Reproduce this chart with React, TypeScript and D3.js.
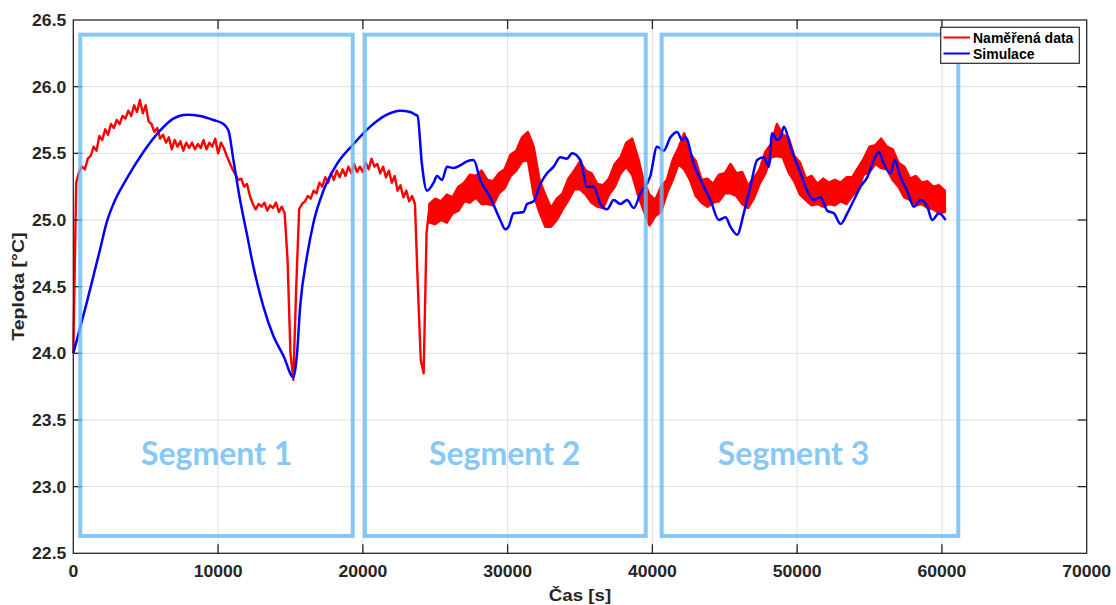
import React from 'react';
import * as d3 from 'd3';

const W = 1116;
const H = 605;

const xTicks = [0, 10000, 20000, 30000, 40000, 50000, 60000, 70000];
const yTicks = [22.5, 23.0, 23.5, 24.0, 24.5, 25.0, 25.5, 26.0, 26.5];

// Measured data (Naměřená data), first part: one sample every 200 s from t = 0
const measuredStep = 200;
const measured = [
  24.00, 25.28, 25.36, 25.40, 25.38, 25.46, 25.48, 25.55, 25.52, 25.63,
  25.60, 25.68, 25.64, 25.72, 25.69, 25.75, 25.72, 25.78, 25.76, 25.82,
  25.78, 25.86, 25.81, 25.90, 25.80, 25.86, 25.74, 25.72, 25.66, 25.69,
  25.61, 25.64, 25.58, 25.62, 25.53, 25.60, 25.55, 25.59, 25.52, 25.58,
  25.54, 25.58, 25.53, 25.57, 25.54, 25.60, 25.53, 25.58, 25.55, 25.61,
  25.50, 25.58, 25.54, 25.48, 25.43, 25.38, 25.34, 25.30, 25.31, 25.25,
  25.27, 25.18, 25.12, 25.08, 25.12, 25.10, 25.13, 25.07, 25.11, 25.09,
  25.13, 25.06, 25.10, 25.05, 24.70, 24.00, 23.80, 24.50, 25.08, 25.12,
  25.14, 25.18, 25.16, 25.22, 25.20, 25.28, 25.25, 25.32, 25.28, 25.35,
  25.30, 25.37, 25.32, 25.38, 25.33, 25.40, 25.35, 25.42, 25.36, 25.40,
  25.36, 25.43, 25.38, 25.46, 25.40, 25.42, 25.35, 25.40, 25.32, 25.37,
  25.28, 25.33, 25.22, 25.26, 25.17, 25.22, 25.14, 25.18, 25.12, 24.50,
  23.95, 23.85, 24.90, 25.10,
];

// Measured data, second part (dense noise): upper / lower envelope every 400 s
const bandStart = 24600;
const bandStep = 400;
const measuredUpper = [
  25.12, 25.16, 25.14, 25.19, 25.17, 25.25, 25.28, 25.34, 25.33, 25.37,
  25.30, 25.29, 25.35, 25.38, 25.49, 25.52, 25.62, 25.66, 25.55, 25.30,
  25.19, 25.09, 25.16, 25.20, 25.31, 25.37, 25.44, 25.37, 25.35, 25.27,
  25.26, 25.31, 25.42, 25.47, 25.58, 25.61, 25.47, 25.29, 25.19, 25.15,
  25.25, 25.30, 25.45, 25.54, 25.65, 25.50, 25.44, 25.30, 25.31, 25.27,
  25.34, 25.35, 25.42, 25.35, 25.36, 25.26, 25.31, 25.38, 25.51, 25.57,
  25.72, 25.64, 25.62, 25.48, 25.43, 25.31, 25.33, 25.27, 25.31, 25.28,
  25.30, 25.28, 25.32, 25.32, 25.39, 25.46, 25.55, 25.56, 25.61, 25.55,
  25.53, 25.43, 25.40, 25.31, 25.33, 25.28, 25.29, 25.25, 25.26, 25.22,
];
const measuredLower = [
  24.98, 24.97, 25.00, 24.98, 25.05, 25.07, 25.14, 25.13, 25.17, 25.12,
  25.12, 25.11, 25.20, 25.24, 25.33, 25.37, 25.44, 25.45, 25.19, 25.06,
  24.95, 24.95, 25.00, 25.08, 25.15, 25.23, 25.23, 25.19, 25.13, 25.10,
  25.09, 25.19, 25.25, 25.35, 25.40, 25.34, 25.19, 25.07, 24.96, 25.03,
  25.06, 25.20, 25.30, 25.42, 25.38, 25.30, 25.18, 25.13, 25.10, 25.13,
  25.14, 25.20, 25.20, 25.18, 25.12, 25.09, 25.16, 25.27, 25.35, 25.47,
  25.48, 25.47, 25.36, 25.29, 25.19, 25.15, 25.11, 25.12, 25.10, 25.12,
  25.11, 25.14, 25.12, 25.18, 25.23, 25.34, 25.36, 25.42, 25.39, 25.38,
  25.30, 25.25, 25.17, 25.15, 25.11, 25.12, 25.09, 25.08, 25.05, 25.06,
];

// Simulation (Simulace)
const simTime = [
  0, 930, 1850, 2300, 2770, 3690, 4840, 5990, 6910, 7840,
  8760, 9680, 10370, 10720, 11060, 11520, 11980, 12440, 13130, 13820,
  14520, 15210, 15440, 15670, 16130, 16590, 17280, 18210, 19360, 20510,
  21660, 22580, 23270, 23620, 23780, 24080, 24430, 24890, 25120, 25470,
  25810, 26270, 26730, 27190, 27650, 28110, 28800, 29490, 29840, 30070,
  30410, 31100, 31340, 31800, 32260, 32720, 33180, 33640, 34100, 34450,
  35020, 35490, 35940, 36410, 36870, 37330, 37790, 38250, 38710, 39170,
  39860, 40320, 40780, 41250, 41710, 42050, 42280, 42860, 43550, 44010,
  44590, 45050, 45390, 45860, 46310, 46770, 47240, 47690, 48040, 48270,
  48620, 48850, 49080, 49540, 50230, 50690, 51150, 51610, 52080, 52540,
  53000, 53460, 53920, 54380, 54840, 55300, 55640, 55990, 56450, 56730,
  57140, 57600, 58060, 58530, 58990, 59330, 59790, 60250,
];
const simTemp = [
  24.00, 24.38, 24.78, 24.98, 25.12, 25.31, 25.51, 25.67, 25.76, 25.79,
  25.78, 25.75, 25.72, 25.67, 25.45, 25.15, 24.90, 24.65, 24.35, 24.13,
  23.98, 23.82, 23.98, 24.35, 24.72, 24.98, 25.22, 25.42, 25.57, 25.70,
  25.79, 25.82, 25.81, 25.79, 25.78, 25.42, 25.22, 25.28, 25.33, 25.30,
  25.40, 25.39, 25.41, 25.44, 25.45, 25.30, 25.17, 25.00, 24.93, 24.95,
  25.05, 25.06, 25.12, 25.14, 25.27, 25.35, 25.40, 25.47, 25.46, 25.50,
  25.45, 25.25, 25.25, 25.12, 25.08, 25.15, 25.12, 25.15, 25.09, 25.20,
  25.33, 25.55, 25.52, 25.62, 25.66, 25.60, 25.62, 25.42, 25.25, 25.15,
  25.00, 25.02, 24.95, 24.89, 25.05, 25.25, 25.45, 25.47, 25.40, 25.65,
  25.60, 25.62, 25.70, 25.55, 25.35, 25.22, 25.15, 25.17, 25.07, 25.05,
  24.97, 25.05, 25.15, 25.25, 25.32, 25.45, 25.51, 25.42, 25.35, 25.45,
  25.32, 25.22, 25.10, 25.15, 25.10, 25.00, 25.05, 25.00,
];

// Segment annotation boxes
const segmentLabels = ['Segment 1', 'Segment 2', 'Segment 3'];
const segmentStart = [480, 20140, 40640];
const segmentEnd = [19300, 39540, 61130];
const segmentLabelX = [9900, 29800, 49750];
const segmentTop = 26.39;
const segmentBottom = 22.63;
const segmentLabelY = 23.16;

const legendLabels = ['Naměřená data', 'Simulace'];

const RED = '#ff0000';
const BLUE = '#0000ff';
const AXIS = '#262626';
const GRID = '#dfdfdf';
const SEG = '#66baf5';
const SEGTEXT = '#87c8f5';

const FONT = '"Liberation Sans", Arial, Helvetica, sans-serif';

export default function App() {
  const left = 73.3;
  const right = 1086.7;
  const top = 20;
  const bottom = 553.3;

  const x = d3.scaleLinear().domain([0, 70000]).range([left, right]);
  const y = d3.scaleLinear().domain([22.5, 26.5]).range([bottom, top]);

  const redLine = d3
    .line<number>()
    .x((_, i) => x(i * measuredStep))
    .y((d) => y(d));
  const redBand = d3
    .area<number>()
    .x((_, i) => x(bandStart + i * bandStep))
    .y0((_, i) => y(measuredLower[i]))
    .y1((d) => y(d));
  const blueLine = d3
    .line<number>()
    .x((_, i) => x(simTime[i]))
    .y((d) => y(d))
    .curve(d3.curveMonotoneX);

  const tickLen = 9;
  const sx = 1.1;

  return (
    <svg
      width={W}
      height={H}
      style={{ position: 'absolute', left: 0, top: 0, background: '#fff' }}
      fontFamily={FONT}
    >
      <rect x={0} y={0} width={W} height={H} fill="#fff" />
      {/* grid */}
      {xTicks.slice(1, -1).map((t) => (
        <line key={'gx' + t} x1={x(t)} x2={x(t)} y1={top} y2={bottom} stroke={GRID} strokeWidth={1} />
      ))}
      {yTicks.slice(1, -1).map((t) => (
        <line key={'gy' + t} x1={left} x2={right} y1={y(t)} y2={y(t)} stroke={GRID} strokeWidth={1} />
      ))}
      {/* data */}
      <path d={redLine(measured) || ''} fill="none" stroke={RED} strokeWidth={2.4} strokeLinejoin="round" />
      <path d={redBand(measuredUpper) || ''} fill={RED} stroke={RED} strokeWidth={2.5} strokeLinejoin="round" />
      <path d={blueLine(simTemp) || ''} fill="none" stroke={BLUE} strokeWidth={2.5} strokeLinejoin="round" />
      {/* axes box */}
      <rect x={left} y={top} width={right - left} height={bottom - top} fill="none" stroke={AXIS} strokeWidth={1.3} />
      {xTicks.slice(1, -1).map((t) => (
        <g key={'tx' + t}>
          <line x1={x(t)} x2={x(t)} y1={bottom} y2={bottom - tickLen} stroke={AXIS} strokeWidth={1.3} />
          <line x1={x(t)} x2={x(t)} y1={top} y2={top + tickLen} stroke={AXIS} strokeWidth={1.3} />
        </g>
      ))}
      {yTicks.slice(1, -1).map((t) => (
        <g key={'ty' + t}>
          <line x1={left} x2={left + tickLen} y1={y(t)} y2={y(t)} stroke={AXIS} strokeWidth={1.3} />
          <line x1={right} x2={right - tickLen} y1={y(t)} y2={y(t)} stroke={AXIS} strokeWidth={1.3} />
        </g>
      ))}
      {/* segments */}
      {segmentLabels.map((s, i) => (
        <g key={s}>
          <rect
            x={x(segmentStart[i])}
            y={y(segmentTop)}
            width={x(segmentEnd[i]) - x(segmentStart[i])}
            height={y(segmentBottom) - y(segmentTop)}
            fill="none"
            stroke={SEG}
            strokeOpacity={0.8}
            strokeWidth={4}
          />
          <text
            x={x(segmentLabelX[i])}
            y={y(segmentLabelY)}
            textAnchor="middle"
            fontFamily="Lato, 'Open Sans', sans-serif"
            fontWeight={700}
            fontSize={32}
            fill={SEGTEXT}
          >
            {s}
          </text>
        </g>
      ))}
      {/* tick labels */}
      {yTicks.map((t) => (
        <text
          key={'ly' + t}
          transform={`translate(${left - 7},${y(t) + 6}) scale(${sx},1)`}
          textAnchor="end"
          fontWeight="bold"
          fontSize={16}
          fill={AXIS}
        >
          {d3.format('.1f')(t)}
        </text>
      ))}
      {xTicks.map((t) => (
        <text
          key={'lx' + t}
          transform={`translate(${x(t)},${577}) scale(${sx},1)`}
          textAnchor="middle"
          fontWeight="bold"
          fontSize={16}
          fill={AXIS}
        >
          {String(t)}
        </text>
      ))}
      {/* axis labels */}
      <text
        transform={`translate(${(left + right) / 2},${601}) scale(${sx},1)`}
        textAnchor="middle"
        fontWeight="bold"
        fontSize={17}
        fill={AXIS}
      >
        Čas [s]
      </text>
      <text
        transform={`translate(${24},${(top + bottom) / 2}) rotate(-90) scale(1.15,1)`}
        textAnchor="middle"
        fontWeight="bold"
        fontSize={17}
        fill={AXIS}
      >
        Teplota [°C]
      </text>
      {/* legend */}
      <g>
        <rect x={940.7} y={27.3} width={138.6} height={36} fill="#fff" stroke={AXIS} strokeWidth={1.2} />
        {legendLabels.map((l, i) => (
          <g key={l}>
            <line x1={943.5} x2={970} y1={37.5 + i * 16} y2={37.5 + i * 16} stroke={i === 0 ? RED : BLUE} strokeWidth={2} />
            <text x={973} y={42.5 + i * 16} fontWeight="bold" fontSize={14} fill="#000">
              {l}
            </text>
          </g>
        ))}
      </g>
    </svg>
  );
}
